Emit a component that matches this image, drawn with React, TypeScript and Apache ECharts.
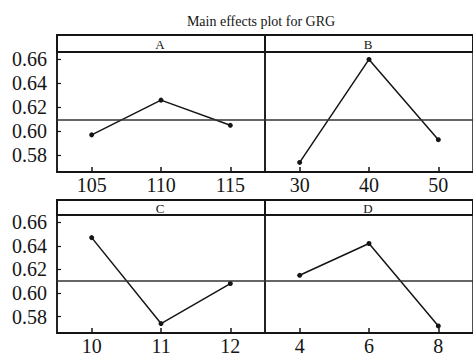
import React, { useEffect, useRef } from 'react';
import * as echarts from 'echarts';

const levelsA = ['105', '110', '115'];
const valuesA = [0.597, 0.626, 0.605];
const levelsB = ['30', '40', '50'];
const valuesB = [0.574, 0.66, 0.593];
const levelsC = ['10', '11', '12'];
const valuesC = [0.647, 0.574, 0.608];
const levelsD = ['4', '6', '8'];
const valuesD = [0.615, 0.642, 0.572];
const panelNames = ['A', 'B', 'C', 'D'];
const grandMean = 0.6093;
const titleText = 'Main effects plot for GRG';

const FONT = 'Liberation Serif';
const INK = '#151515';

export default function App() {
  const ref = useRef<HTMLDivElement>(null);
  useEffect(() => {
    if (!ref.current) return;
    const chart = echarts.init(ref.current, undefined, { renderer: 'svg' });
    const levels = [levelsA, levelsB, levelsC, levelsD];
    const values = [valuesA, valuesB, valuesC, valuesD];
    const grids = [
      { left: 57, top: 52, width: 208, height: 120 },
      { left: 265, top: 52, width: 208, height: 120 },
      { left: 57, top: 215, width: 208, height: 119 },
      { left: 265, top: 215, width: 208, height: 119 },
    ];
    const strips = [
      { x: 57, y: 35, w: 208, h: 17 },
      { x: 265, y: 35, w: 208, h: 17 },
      { x: 57, y: 200, w: 208, h: 15 },
      { x: 265, y: 200, w: 208, h: 15 },
    ];
    const option: any = {
      animation: false,
      textStyle: { fontFamily: FONT },
      grid: grids.map((g) => ({
        ...g,
        show: true,
        borderColor: INK,
        borderWidth: 1.5,
        backgroundColor: 'transparent',
        containLabel: false,
      })),
      xAxis: levels.map((lv, i) => ({
        type: 'category',
        gridIndex: i,
        data: lv,
        boundaryGap: true,
        axisLine: { show: true, lineStyle: { color: INK, width: 2 } },
        axisTick: { show: true, inside: true, length: 5, alignWithLabel: true, lineStyle: { color: INK, width: 1.5 } },
        axisLabel: { color: INK, fontFamily: FONT, fontSize: 20, margin: 3 },
        splitLine: { show: false },
      })),
      yAxis: levels.map((_, i) => ({
        type: 'value',
        gridIndex: i,
        min: 0.566,
        max: 0.6662,
        axisLine: { show: i % 2 === 0, lineStyle: { color: INK, width: 1.5 } },
        axisTick: { show: i % 2 === 0, inside: true, length: 4, lineStyle: { color: INK, width: 1.2 } },
        axisLabel: {
          show: i % 2 === 0,
          color: INK,
          fontFamily: FONT,
          fontSize: 20,
          margin: 10,
          showMinLabel: false,
          showMaxLabel: false,
          formatter: (v: number) => (Math.abs(v * 50 - Math.round(v * 50)) < 1e-6 ? v.toFixed(2) : ''),
        },
        splitLine: { show: false },
      })),
      series: values.map((vals, i) => ({
        type: 'line',
        xAxisIndex: i,
        yAxisIndex: i,
        data: vals,
        symbol: 'circle',
        symbolSize: 5,
        itemStyle: { color: INK },
        lineStyle: { color: INK, width: 1.5 },
        markLine: {
          silent: true,
          symbol: ['none', 'none'],
          label: { show: false },
          lineStyle: { color: '#333', width: 1.5, type: 'solid' },
          data: [{ yAxis: grandMean }],
        },
      })),
      graphic: [
        {
          type: 'text',
          x: 261,
          y: 21,
          style: {
            text: titleText,
            fontFamily: FONT,
            fontSize: 14,
            fill: INK,
            textAlign: 'center',
            textVerticalAlign: 'middle',
          },
        },
        ...strips.map((s) => ({
          type: 'rect',
          shape: { x: s.x, y: s.y, width: s.w, height: s.h },
          style: { fill: '#fff', stroke: INK, lineWidth: 2 },
        })),
        ...strips.map((s, i) => ({
          type: 'text',
          x: s.x + s.w / 2 - 1,
          y: s.y + s.h / 2 + 1,
          style: {
            text: panelNames[i],
            fontFamily: FONT,
            fontSize: 13,
            fill: INK,
            textAlign: 'center',
            textVerticalAlign: 'middle',
          },
        })),
      ],
    };
    chart.setOption(option);
    return () => chart.dispose();
  }, []);
  return (
    <div
      ref={ref}
      style={{ position: 'fixed', left: 0, top: 0, width: 473, height: 356, background: '#fff' }}
    />
  );
}
